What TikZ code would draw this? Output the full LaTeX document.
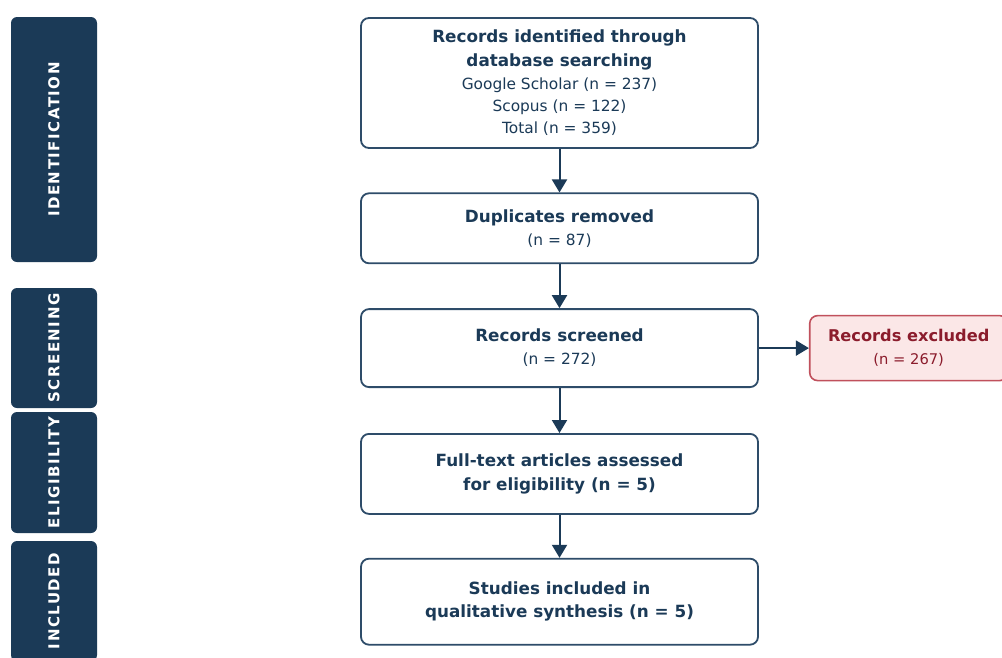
\documentclass[tikz,border=0pt]{standalone}
\usepackage{fontspec}
\setmainfont{DejaVu Sans}
\newfontfamily\phasefont[LetterSpace=10]{DejaVu Sans}
\usetikzlibrary{arrows.meta,positioning}
\definecolor{navy}{HTML}{1B3A57}
\definecolor{boxline}{HTML}{2E4C69}
\definecolor{exclline}{HTML}{C0505C}
\definecolor{exclfill}{HTML}{FBE7E7}
\definecolor{excltext}{HTML}{8B1C2C}
\newcommand{\boxtitle}{\bfseries\fontsize{16.8}{23}\selectfont}

\begin{document}
\begin{tikzpicture}[
  x=1pt, y=-1pt,
  font=\fontsize{15.4}{23}\selectfont,
  flowbox/.style={rectangle, rounded corners=8pt, draw=boxline, line width=1.8pt, fill=white, minimum width=397pt, align=center, text=navy, inner sep=4pt},
  exclbox/.style={rectangle, rounded corners=8pt, draw=exclline, line width=1.6pt, fill=exclfill, minimum width=198pt, minimum height=65pt, align=center, text=excltext, font=\fontsize{14.7}{23}\selectfont},
  phase/.style={rectangle, rounded corners=6pt, fill=navy, text=white, rotate=90, minimum height=86pt, font=\phasefont\bfseries\fontsize{15}{18}\selectfont},
  arrow/.style={-{Triangle[length=13pt,width=15pt]}, line width=2pt, navy}
]
\clip (0,0) rectangle (1002,657);
\fill[white] (0,0) rectangle (1002,657);

% phase bars on the left
\node[phase, minimum width=245pt] (ident) at (54,139.5) {IDENTIFICATION};
\node[phase, minimum width=120pt] (screen) at (54,348) {SCREENING};
\node[phase, minimum width=121pt] (elig) at (54,472.5) {ELIGIBILITY};
\node[phase, minimum width=120pt] (incl) at (54,601) {INCLUDED};

% flow boxes
\node[flowbox, minimum height=130pt] (found) at (559.5,83) {{\boxtitle Records identified through}\\[1pt]{\boxtitle database searching}\\Google Scholar (n = 237)\\[-1pt]Scopus (n = 122)\\[-1pt]Total (n = 359)};
\node[flowbox, minimum height=70pt, below=43.5pt of found] (dupes) {{\boxtitle Duplicates removed}\\(n = 87)};
\node[flowbox, minimum height=78pt, below=44pt of dupes] (screened) {{\boxtitle Records screened}\\(n = 272)};
\node[flowbox, minimum height=80pt, below=45pt of screened] (fulltext) {{\boxtitle Full-text articles assessed}\\[1pt]{\boxtitle for eligibility (n = 5)}};
\node[flowbox, minimum height=86pt, below=43pt of fulltext] (included) {{\boxtitle Studies included in}\\{\boxtitle qualitative synthesis (n = 5)}};
\node[exclbox, right=50pt of screened] (excluded) {{\bfseries\fontsize{16.2}{23}\selectfont Records excluded}\\(n = 267)};

\draw[arrow] (found) -- (dupes);
\draw[arrow] (dupes) -- (screened);
\draw[arrow] (screened) -- (fulltext);
\draw[arrow] (fulltext) -- (included);
\draw[arrow] (screened) -- (excluded);
\end{tikzpicture}
\end{document}
